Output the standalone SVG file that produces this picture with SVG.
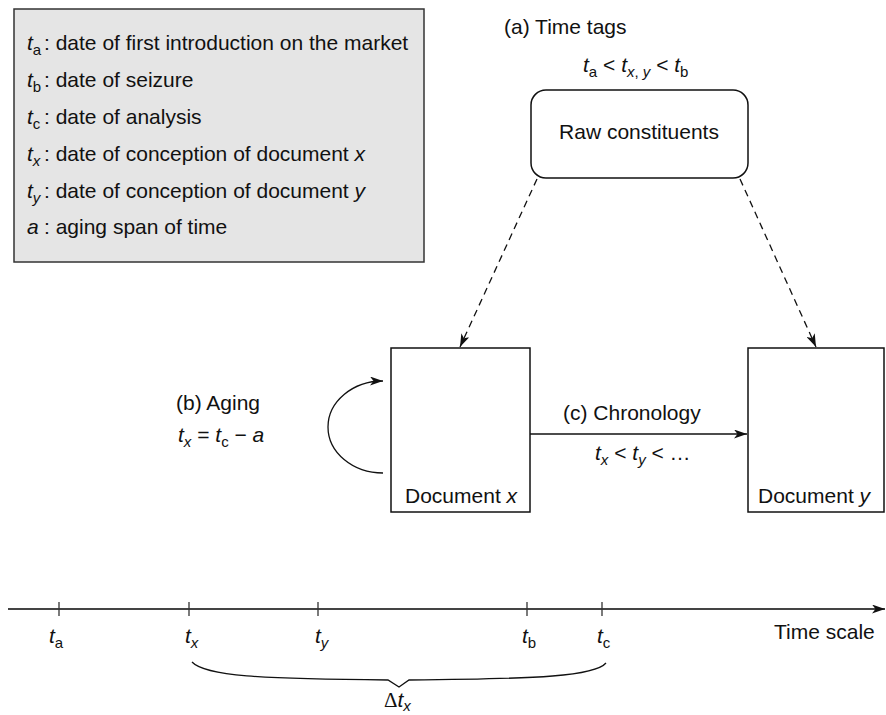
<svg xmlns="http://www.w3.org/2000/svg" width="886" height="715" viewBox="0 0 886 715">
<style>
text{font-family:"Liberation Sans",Arial,sans-serif;font-size:21px;fill:#111}
.i{font-style:italic}
.s{font-size:15px}
.box{fill:#fff;stroke:#111;stroke-width:1.5}
.con{fill:none;stroke:#111;stroke-width:1.3}
.dash{stroke-dasharray:7 5}
</style>
<defs>
<marker id="ah" viewBox="0 0 13 9" refX="13" refY="4.5" markerWidth="13" markerHeight="9" orient="auto" markerUnits="userSpaceOnUse">
<path d="M0,0 L13,4.5 L0,9 L3.5,4.5 Z" fill="#111"/>
</marker>
</defs>
<g id="legend">
<rect x="14" y="9" width="410" height="253" fill="#e5e5e5" stroke="#333" stroke-width="1.5"/>
<text x="27" y="50"><tspan class="i">t</tspan><tspan class="s" dy="5">a</tspan><tspan x="44" dy="-5">: date of first introduction on the market</tspan></text>
<text x="27" y="87"><tspan class="i">t</tspan><tspan class="s" dy="5">b</tspan><tspan x="44" dy="-5">: date of seizure</tspan></text>
<text x="27" y="124"><tspan class="i">t</tspan><tspan class="s" dy="5">c</tspan><tspan x="44" dy="-5">: date of analysis</tspan></text>
<text x="27" y="161"><tspan class="i">t</tspan><tspan class="s i" dy="5">x</tspan><tspan x="44" dy="-5">: date of conception of document </tspan><tspan class="i">x</tspan></text>
<text x="27" y="198"><tspan class="i">t</tspan><tspan class="s i" dy="5">y</tspan><tspan x="44" dy="-5">: date of conception of document </tspan><tspan class="i">y</tspan></text>
<text x="27" y="234"><tspan class="i">a</tspan><tspan x="44">: aging span of time</tspan></text>
</g>
<g id="label-a">
<text x="504" y="34">(a) Time tags</text>
<text x="583" y="72"><tspan class="i">t</tspan><tspan class="s" dy="5">a</tspan><tspan dy="-5"> &lt; </tspan><tspan class="i">t</tspan><tspan class="s" dy="5"><tspan class="i">x</tspan>, <tspan class="i">y</tspan></tspan><tspan dy="-5"> &lt; </tspan><tspan class="i">t</tspan><tspan class="s" dy="5">b</tspan></text>
</g>
<g id="raw">
<rect class="box" x="531" y="90" width="217" height="88" rx="15" ry="15"/>
<text x="639" y="139" text-anchor="middle">Raw constituents</text>
</g>
<g id="docx">
<rect class="box" x="391" y="348" width="139" height="164"/>
<text x="405" y="503">Document <tspan class="i">x</tspan></text>
</g>
<g id="docy">
<rect class="box" x="748" y="348" width="136" height="164"/>
<text x="758" y="503">Document <tspan class="i">y</tspan></text>
</g>
<g id="label-b">
<text x="176" y="410">(b) Aging</text>
<text x="178" y="442"><tspan class="i">t</tspan><tspan class="s i" dy="5">x</tspan><tspan dy="-5"> = </tspan><tspan class="i">t</tspan><tspan class="s" dy="5">c</tspan><tspan dy="-5"> − </tspan><tspan class="i">a</tspan></text>
</g>
<g id="label-c">
<text x="563" y="420">(c) Chronology</text>
<text x="595" y="460"><tspan class="i">t</tspan><tspan class="s i" dy="5">x</tspan><tspan dy="-5"> &lt; </tspan><tspan class="i">t</tspan><tspan class="s i" dy="5">y</tspan><tspan dy="-5"> &lt; …</tspan></text>
</g>
<g id="connectors">
<line class="con dash" x1="537" y1="179" x2="460" y2="347" marker-end="url(#ah)"/>
<line class="con dash" x1="740" y1="179" x2="816" y2="347" marker-end="url(#ah)"/>
<path class="con" d="M383,473 A55,46 0 0 1 383,381" marker-end="url(#ah)"/>
<line class="con" x1="530" y1="434" x2="747" y2="434" marker-end="url(#ah)"/>
</g>
<g id="timeline">
<line x1="8" y1="609" x2="885" y2="609" stroke="#444" stroke-width="2" marker-end="url(#ah)"/>
<g stroke="#333" stroke-width="1.3">
<line x1="59" y1="602" x2="59" y2="616"/>
<line x1="189" y1="602" x2="189" y2="616"/>
<line x1="318" y1="602" x2="318" y2="616"/>
<line x1="527" y1="602" x2="527" y2="616"/>
<line x1="602" y1="602" x2="602" y2="616"/>
</g>
<text x="49" y="643"><tspan class="i">t</tspan><tspan class="s" dy="5">a</tspan></text>
<text x="185" y="643"><tspan class="i">t</tspan><tspan class="s i" dy="5">x</tspan></text>
<text x="315" y="643"><tspan class="i">t</tspan><tspan class="s i" dy="5">y</tspan></text>
<text x="522" y="643"><tspan class="i">t</tspan><tspan class="s" dy="5">b</tspan></text>
<text x="597" y="643"><tspan class="i">t</tspan><tspan class="s" dy="5">c</tspan></text>
<text x="774" y="639">Time scale</text>
<path d="M192,662 C205,676 260,679 388,680 L399,687 L409,680 C540,679 595,676 606,663" fill="none" stroke="#111" stroke-width="1.3"/>
<text x="384" y="707"><tspan style="font-family:'Liberation Serif',serif">Δ</tspan><tspan class="i">t</tspan><tspan class="s i" dy="4">x</tspan></text>
</g>
</svg>
